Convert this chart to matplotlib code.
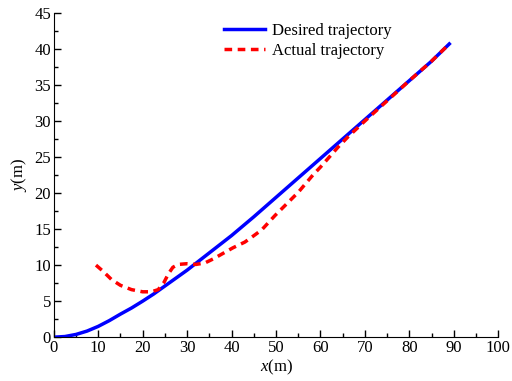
import matplotlib
matplotlib.use('Agg')
import matplotlib.pyplot as plt
from matplotlib.ticker import MultipleLocator

plt.rcParams['font.family'] = ['Liberation Serif', 'DejaVu Serif']
plt.rcParams['mathtext.fontset'] = 'custom'
plt.rcParams['mathtext.it'] = 'Liberation Serif:italic'
plt.rcParams['mathtext.rm'] = 'Liberation Serif'

# desired trajectory
xd = [0, 2.5, 5, 7.5, 10, 12.5, 15, 17.5, 20, 22.5, 25, 27.5, 30, 35, 40, 45, 50,
      55, 60, 65, 70, 75, 80, 85, 89]
yd = [0, 0.09, 0.38, 0.85, 1.5, 2.3, 3.2, 4.05, 5.0, 6.0, 7.1, 8.2, 9.3, 11.7,
      14.1, 16.7, 19.4, 22.1, 24.8, 27.5, 30.2, 32.9, 35.6, 38.3, 40.7]

# actual trajectory
xa = [9.5, 11, 13, 15, 17.5, 20, 22, 23.5, 24.8, 25.8, 26.8, 28, 30, 32, 34, 36,
      38, 40.3, 43, 44.6, 46.8, 49.8, 55, 58.3, 60, 64, 66.2, 70, 75, 80, 85, 89]
ya = [10.0, 9.2, 8.0, 7.2, 6.6, 6.3, 6.3, 6.6, 7.6, 8.8, 9.7, 10.1, 10.2, 10.1,
      10.3, 10.9, 11.6, 12.4, 13.2, 13.9, 14.9, 16.9, 20.1, 22.5, 23.6, 26.4,
      27.8, 30.0, 32.8, 35.6, 38.3, 40.7]

fig = plt.figure(figsize=(5.12, 3.81), dpi=100)
ax = fig.add_axes([0.105, 0.115, 0.868, 0.851])

ax.plot(xd, yd, color='blue', lw=2.5, label='Desired trajectory')
ax.plot(xa, ya, color='red', lw=2.5, ls=(0, (2.2, 1.6)), label='Actual trajectory')

ax.set_xlim(0, 100)
ax.set_ylim(0, 45)
ax.xaxis.set_major_locator(MultipleLocator(10))
ax.xaxis.set_minor_locator(MultipleLocator(5))
ax.yaxis.set_major_locator(MultipleLocator(5))
ax.yaxis.set_minor_locator(MultipleLocator(2.5))
ax.tick_params(which='major', direction='in', length=5, width=1, labelsize=12, pad=2)
ax.tick_params(which='minor', direction='in', length=3, width=1)
ax.spines['top'].set_visible(False)
ax.spines['right'].set_visible(False)

ax.set_xlabel(r'$\mathit{x}$(m)', fontsize=12, labelpad=1)
ax.set_ylabel(r'$\mathit{y}$(m)', fontsize=12, labelpad=4)

ax.legend(loc='upper left', bbox_to_anchor=(0.36, 1.0), frameon=False, fontsize=12,
          handlelength=2.5, handletextpad=0.4, labelspacing=0.25, borderaxespad=0.2)

plt.savefig('out.png', dpi=100)
